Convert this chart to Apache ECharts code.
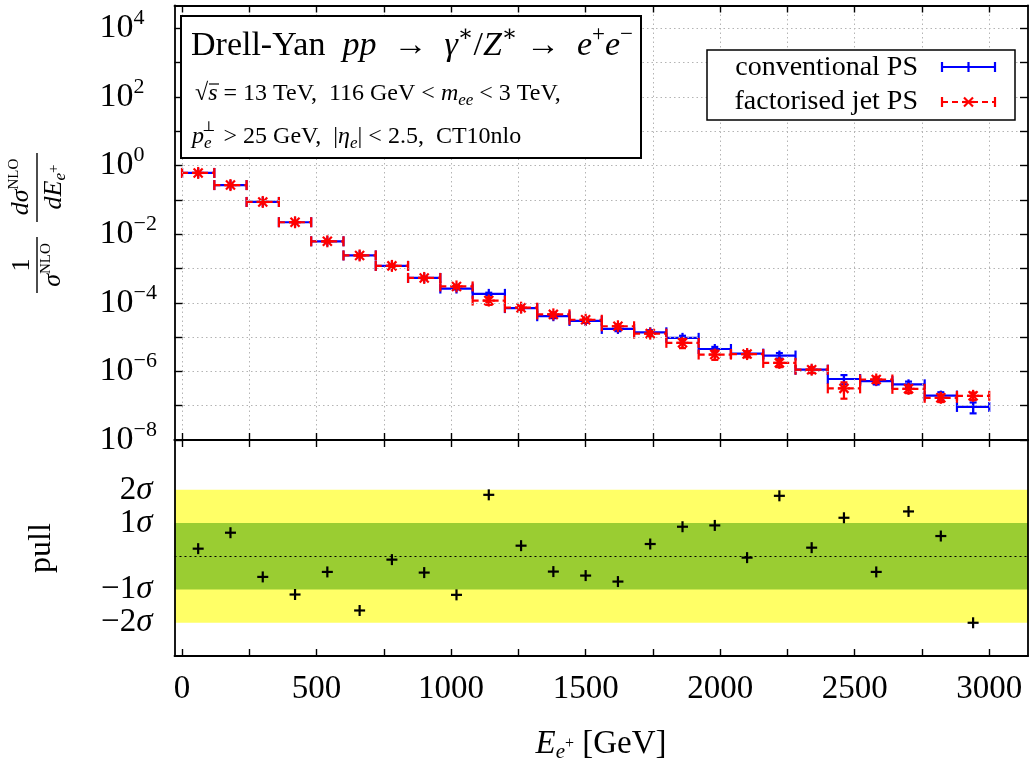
<!DOCTYPE html>
<html><head><meta charset="utf-8">
<script src="https://cdn.jsdelivr.net/npm/echarts@6/dist/echarts.min.js"></script>
<style>html,body{margin:0;padding:0;background:#fff}#c{width:1032px;height:765px}</style>
</head><body><div id="c"></div>
<script>
// ---------------- data ----------------
const binEdges = [0,120,240,360,480,600,720,840,960,1080,1200,1320,1440,1560,1680,1800,1920,2040,2160,2280,2400,2520,2640,2760,2880,3000];
const conventionalPS = [0.61,0.27,0.087,0.0223,0.0062,0.0024,0.00119,5.3e-4,2.6e-4,1.82e-4,7.0e-5,4.06e-5,2.96e-5,1.73e-5,1.38e-5,9.5e-6,4.5e-6,3.3e-6,2.9e-6,1.12e-6,6.0e-7,5.2e-7,4.2e-7,1.97e-7,9.2e-8];
const conventionalRelErr = [0.01,0.01,0.01,0.02,0.02,0.03,0.04,0.05,0.06,0.08,0.1,0.12,0.12,0.14,0.15,0.15,0.15,0.15,0.18,0.18,0.3,0.2,0.2,0.25,0.35];
const factorisedJetPS = [0.61,0.27,0.087,0.0223,0.0062,0.0024,0.00119,5.3e-4,3.0e-4,1.16e-4,7.2e-5,4.6e-5,3.2e-5,2.07e-5,1.26e-5,6.8e-6,3.1e-6,3.2e-6,1.77e-6,1.12e-6,3.2e-7,5.8e-7,3.1e-7,1.7e-7,1.94e-7];
const factorisedRelErr = [0.01,0.01,0.02,0.02,0.03,0.04,0.05,0.06,0.08,0.25,0.12,0.14,0.14,0.15,0.18,0.3,0.3,0.2,0.25,0.2,0.5,0.2,0.25,0.25,0.25];
const pullValues = [0.23,0.71,-0.62,-1.15,-0.47,-1.63,-0.10,-0.49,-1.16,1.85,0.32,-0.46,-0.58,-0.76,0.37,0.89,0.93,-0.04,1.82,0.26,1.16,-0.47,1.35,0.61,-2.0];
const xTickValues = [0,250,500,750,1000,1250,1500,1750,2000,2250,2500,2750,3000];
const xLabelValues = [0,500,1000,1500,2000,2500,3000];
const yDecadeTicks = [1e-8,1e-7,1e-6,1e-5,1e-4,1e-3,1e-2,1e-1,1,1e1,1e2,1e3,1e4];
const yLabelValues = [1e-8,1e-6,1e-4,1e-2,1,1e2,1e4];
const pullLabelValues = [-2,-1,1,2];
const legendNames = ['conventional PS','factorised jet PS'];

// ---------------- helpers ----------------
const SERIF = '"Liberation Serif","DejaVu Serif",serif';
const BLUE = '#0000ff', RED = '#ff0000';

function histData(vals, rel){
  return vals.map((v,i)=>[binEdges[i], binEdges[i+1], v, v*(1-rel[i]), v*(1+rel[i])]);
}
function seg(x1,y1,x2,y2,style){ return {type:'line', shape:{x1,y1,x2,y2}, style}; }

function histRender(color, dashed, star){
  return function(params, api){
    const x0=api.value(0), x1=api.value(1), y=api.value(2), lo=api.value(3), hi=api.value(4);
    const xc=(x0+x1)/2;
    const pa=api.coord([x0,y]), pb=api.coord([x1,y]), pc=api.coord([xc,y]);
    const pl=api.coord([xc,lo]), ph=api.coord([xc,hi]);
    const lw=2.2;
    const main={stroke:color, lineWidth:lw, lineDash: dashed?[6,4]:null, fill:null};
    const solid={stroke:color, lineWidth:lw, fill:null};
    const ch=[
      seg(pa[0],pa[1],pb[0],pb[1],main),
      seg(pa[0],pa[1]-5,pa[0],pa[1]+5,solid),
      seg(pb[0],pb[1]-5,pb[0],pb[1]+5,solid),
      seg(pl[0],pl[1],ph[0],ph[1],solid),
      seg(pl[0]-3.5,pl[1],pl[0]+3.5,pl[1],solid),
      seg(ph[0]-3.5,ph[1],ph[0]+3.5,ph[1],solid)
    ];
    if(star){
      ch.push(seg(pc[0],pc[1]-6,pc[0],pc[1]+6,solid));
      ch.push(seg(pc[0]-6,pc[1],pc[0]+6,pc[1],solid));
      ch.push(seg(pc[0]-4.5,pc[1]-4.5,pc[0]+4.5,pc[1]+4.5,solid));
      ch.push(seg(pc[0]-4.5,pc[1]+4.5,pc[0]+4.5,pc[1]-4.5,solid));
    } else {
      ch.push(seg(pc[0],pc[1]-5,pc[0],pc[1]+5,solid));
    }
    return {type:'group', children:ch};
  };
}

function pullRender(params, api){
  const p=api.coord([api.value(0), api.value(1)]);
  const st={stroke:'#000', lineWidth:2.2};
  return {type:'group', children:[
    seg(p[0]-5.5,p[1],p[0]+5.5,p[1],st),
    seg(p[0],p[1]-5.5,p[0],p[1]+5.5,st)
  ]};
}

const pullData = pullValues.map((v,i)=>[(binEdges[i]+binEdges[i+1])/2, v]);

const XMIN=-28, XMAX=3144;
const axisLine={show:true, onZero:false, lineStyle:{color:'#000', width:1.8}};
const tickStyle={show:true, inside:true, length:7, lineStyle:{color:'#000', width:1.4}, customValues:xTickValues};
const dotted={show:true, lineStyle:{color:'#b4b4b4', width:1, type:[1.5,3]}};

function xAx(grid, pos, labels, split){
  return {type:'value', gridIndex:grid, position:pos, min:XMIN, max:XMAX, z:5,
    axisLine, axisTick:tickStyle,
    axisLabel: labels ? {show:true, customValues:xLabelValues, fontFamily:SERIF, fontSize:33, color:'#000', margin:17,
      formatter:function(v){ return String(v); }} : {show:false},
    splitLine: split ? dotted : {show:false}};
}

const supRich = {
  b:{fontFamily:SERIF, fontSize:34, lineHeight:42, color:'#000'},
  s:{fontFamily:SERIF, fontSize:22, lineHeight:22, verticalAlign:'top', color:'#000'}
};

const ARW1 = '\u2002\u2192\u2002';
const ARW2 = ' \u2192\u2002';

const option = {
  animation:false,
  backgroundColor:'#fff',
  grid:[
    {left:174.5, top:5.5, width:853.5, height:434.5},
    {left:174.5, top:440, width:853.5, height:216}
  ],
  xAxis:[ xAx(0,'bottom',false,true), xAx(0,'top',false,false), xAx(1,'bottom',true,false), xAx(1,'top',false,false) ],
  yAxis:[
    {type:'log', gridIndex:0, position:'left', min:1e-8, max:4.64e4, logBase:10, z:5,
      axisLine, axisTick:{show:true, inside:true, length:8, lineStyle:{color:'#000', width:1.4}, customValues:yDecadeTicks},
      axisLabel:{show:true, customValues:yLabelValues, align:'left', margin:75, rich:supRich,
        formatter:function(v){ const e=Math.round(Math.log10(v)); return '{b|10}{s|'+(e<0?'\u2212'+(-e):e)+'}'; }},
      splitLine:dotted},
    {type:'log', gridIndex:0, position:'right', min:1e-8, max:4.64e4, logBase:10, z:5,
      axisLine, axisTick:{show:true, inside:true, length:8, lineStyle:{color:'#000', width:1.4}, customValues:yDecadeTicks},
      axisLabel:{show:false}, splitLine:{show:false}},
    {type:'value', gridIndex:1, position:'left', min:-3, max:3.5, z:5,
      axisLine, axisTick:{show:false},
      axisLabel:{show:true, customValues:pullLabelValues, align:'right', margin:22,
        rich:{n:{fontFamily:SERIF, fontSize:33, color:'#000'}, g:{fontFamily:SERIF, fontSize:33, fontStyle:'italic', color:'#000'}},
        formatter:function(v){ return '{n|'+(v<0?'\u2212':'')+Math.abs(v)+'}{g|\u03c3}'; }},
      splitLine:{show:false}},
    {type:'value', gridIndex:1, position:'right', min:-3, max:3.5, z:5,
      axisLine, axisTick:{show:false}, axisLabel:{show:false}, splitLine:{show:false}}
  ],
  series:[
    {name:legendNames[0], type:'custom', xAxisIndex:0, yAxisIndex:0, z:3,
      data:histData(conventionalPS, conventionalRelErr), encode:{x:[0,1], y:[2,3,4]},
      renderItem:histRender(BLUE,false,false)},
    {name:legendNames[1], type:'custom', xAxisIndex:0, yAxisIndex:0, z:4,
      data:histData(factorisedJetPS, factorisedRelErr), encode:{x:[0,1], y:[2,3,4]},
      renderItem:histRender(RED,true,true)},
    {name:'bands', type:'line', xAxisIndex:2, yAxisIndex:2, z:1, data:[], silent:true,
      markArea:{silent:true, data:[
        [{yAxis:-2, itemStyle:{color:'#ffff66'}},{yAxis:2}],
        [{yAxis:-1, itemStyle:{color:'#9acd32'}},{yAxis:1}]
      ]},
      markLine:{silent:true, symbol:'none', label:{show:false},
        lineStyle:{color:'#000', width:1, type:[2,3]}, data:[{yAxis:0}]}},
    {name:'pull', type:'custom', xAxisIndex:2, yAxisIndex:2, z:6,
      data:pullData, encode:{x:0, y:1}, renderItem:pullRender}
  ],
  graphic:[
    // title box
    {type:'rect', z:100, shape:{x:181, y:16, width:460, height:142}, style:{fill:'#fff', stroke:'#000', lineWidth:2}},
    {type:'text', z:101, x:191, y:46, style:{
      text:'{r|Drell-Yan  }{i|pp}{r|'+ARW1+'}{i|\u03b3}{sp|\u2217}{r|/}{i|Z}{sp|\u2217}{r|'+ARW2+'}{i|e}{sp|+}{i|e}{sp|\u2212}',
      verticalAlign:'middle', align:'left',
      rich:{
        r:{fontFamily:SERIF, fontSize:34, lineHeight:46, fill:'#000'},
        i:{fontFamily:SERIF, fontSize:34, lineHeight:46, fontStyle:'italic', fill:'#000'},
        sp:{fontFamily:SERIF, fontSize:23, lineHeight:24, verticalAlign:'top', fill:'#000'}
      }}},
    {type:'text', z:101, x:195, y:94, style:{
      text:'{r|\u221a}{i|s}{r| = 13 TeV,  116 GeV < }{i|m}{sb|ee}{r| < 3 TeV,}',
      verticalAlign:'middle', align:'left',
      rich:{
        r:{fontFamily:SERIF, fontSize:24, lineHeight:30, fill:'#000'},
        i:{fontFamily:SERIF, fontSize:24, lineHeight:30, fontStyle:'italic', fill:'#000'},
        sb:{fontFamily:SERIF, fontSize:17, lineHeight:20, verticalAlign:'bottom', fontStyle:'italic', fill:'#000'}
      }}},
    {type:'line', z:101, shape:{x1:209, y1:84, x2:219, y2:84}, style:{stroke:'#000', lineWidth:1.2}},
    {type:'text', z:101, x:192, y:137, style:{
      text:'{i|p}{sb|e}{r|  > 25 GeV,  |}{i|\u03b7}{sb|e}{r|| < 2.5,  CT10nlo}',
      verticalAlign:'middle', align:'left',
      rich:{
        r:{fontFamily:SERIF, fontSize:24, lineHeight:30, fill:'#000'},
        i:{fontFamily:SERIF, fontSize:24, lineHeight:30, fontStyle:'italic', fill:'#000'},
        sb:{fontFamily:SERIF, fontSize:17, lineHeight:20, verticalAlign:'bottom', fontStyle:'italic', fill:'#000'}
      }}},
    {type:'text', z:101, x:202, y:127, style:{text:'\u22a5', font:'14px '+SERIF, fill:'#000', align:'left', verticalAlign:'middle'}},
    // legend
    {type:'rect', z:100, shape:{x:707, y:50, width:308, height:70}, style:{fill:'#fff', stroke:'#000', lineWidth:1.5}},
    {type:'text', z:101, x:918, y:68, style:{text:legendNames[0], font:'28px '+SERIF, fill:'#000', align:'right', verticalAlign:'middle'}},
    {type:'text', z:101, x:918, y:102, style:{text:legendNames[1], font:'28px '+SERIF, fill:'#000', align:'right', verticalAlign:'middle'}},
    {type:'group', z:101, children:[
      {type:'line', z:101, shape:{x1:942,y1:67,x2:995,y2:67}, style:{stroke:BLUE, lineWidth:2.2}},
      {type:'line', z:101, shape:{x1:942,y1:62,x2:942,y2:72}, style:{stroke:BLUE, lineWidth:2.2}},
      {type:'line', z:101, shape:{x1:995,y1:62,x2:995,y2:72}, style:{stroke:BLUE, lineWidth:2.2}},
      {type:'line', z:101, shape:{x1:968.5,y1:62,x2:968.5,y2:72}, style:{stroke:BLUE, lineWidth:2.2}},
      {type:'line', z:101, shape:{x1:942,y1:102,x2:995,y2:102}, style:{stroke:RED, lineWidth:2.2, lineDash:[6,4]}},
      {type:'line', z:101, shape:{x1:942,y1:97,x2:942,y2:107}, style:{stroke:RED, lineWidth:2.2}},
      {type:'line', z:101, shape:{x1:995,y1:97,x2:995,y2:107}, style:{stroke:RED, lineWidth:2.2}},
      {type:'line', z:101, shape:{x1:964,y1:97.5,x2:973,y2:106.5}, style:{stroke:RED, lineWidth:2.2}},
      {type:'line', z:101, shape:{x1:964,y1:106.5,x2:973,y2:97.5}, style:{stroke:RED, lineWidth:2.2}},
      {type:'line', z:101, shape:{x1:962.5,y1:102,x2:974.5,y2:102}, style:{stroke:RED, lineWidth:2.2}}
    ]},
    // y axis title (fraction), rotated
    {type:'group', x:37, y:222, rotation:Math.PI/2, z:101, children:[
      {type:'line', shape:{x1:-71,y1:0,x2:-15,y2:0}, style:{stroke:'#000', lineWidth:1.4}},
      {type:'text', x:-43, y:-2, style:{text:'1', font:'26px '+SERIF, fill:'#000', align:'center', verticalAlign:'bottom'}},
      {type:'text', x:-43, y:2, style:{text:'{i|\u03c3}{sp|NLO}', align:'center', verticalAlign:'top',
        rich:{i:{fontFamily:SERIF, fontSize:26, lineHeight:28, fontStyle:'italic', fill:'#000'},
              sp:{fontFamily:SERIF, fontSize:15, lineHeight:16, verticalAlign:'top', fill:'#000'}}}},
      {type:'line', shape:{x1:0,y1:0,x2:69,y2:0}, style:{stroke:'#000', lineWidth:1.4}},
      {type:'text', x:35, y:-2, style:{text:'{i|d\u03c3}{sp|NLO}', align:'center', verticalAlign:'bottom',
        rich:{i:{fontFamily:SERIF, fontSize:26, lineHeight:28, fontStyle:'italic', fill:'#000'},
              sp:{fontFamily:SERIF, fontSize:15, lineHeight:16, verticalAlign:'top', fill:'#000'}}}},
      {type:'text', x:35, y:2, style:{text:'{i|dE}{sb|e}{ss|+}', align:'center', verticalAlign:'top',
        rich:{i:{fontFamily:SERIF, fontSize:26, lineHeight:30, fontStyle:'italic', fill:'#000'},
              sb:{fontFamily:SERIF, fontSize:17, lineHeight:20, verticalAlign:'bottom', fontStyle:'italic', fill:'#000'},
              ss:{fontFamily:SERIF, fontSize:15, lineHeight:22, verticalAlign:'middle', fill:'#000'}}}}
    ]},
    // pull title
    {type:'text', z:101, x:42, y:548, rotation:Math.PI/2, style:{text:'pull', font:'32px '+SERIF, fill:'#000', align:'center', verticalAlign:'middle'}},
    // x axis title
    {type:'text', z:101, x:601, y:744, style:{text:'{i|E}{sb|e}{ss|+}{r| [GeV]}', align:'center', verticalAlign:'middle',
      rich:{i:{fontFamily:SERIF, fontSize:33, lineHeight:38, fontStyle:'italic', fill:'#000'},
            r:{fontFamily:SERIF, fontSize:33, lineHeight:38, fill:'#000'},
            sb:{fontFamily:SERIF, fontSize:21, lineHeight:24, verticalAlign:'bottom', fontStyle:'italic', fill:'#000'},
            ss:{fontFamily:SERIF, fontSize:16, lineHeight:30, verticalAlign:'middle', fill:'#000'}}}}
  ]
};

const chart = echarts.init(document.getElementById('c'), null, {renderer:'canvas'});
chart.setOption(option);
</script>
</body></html>
